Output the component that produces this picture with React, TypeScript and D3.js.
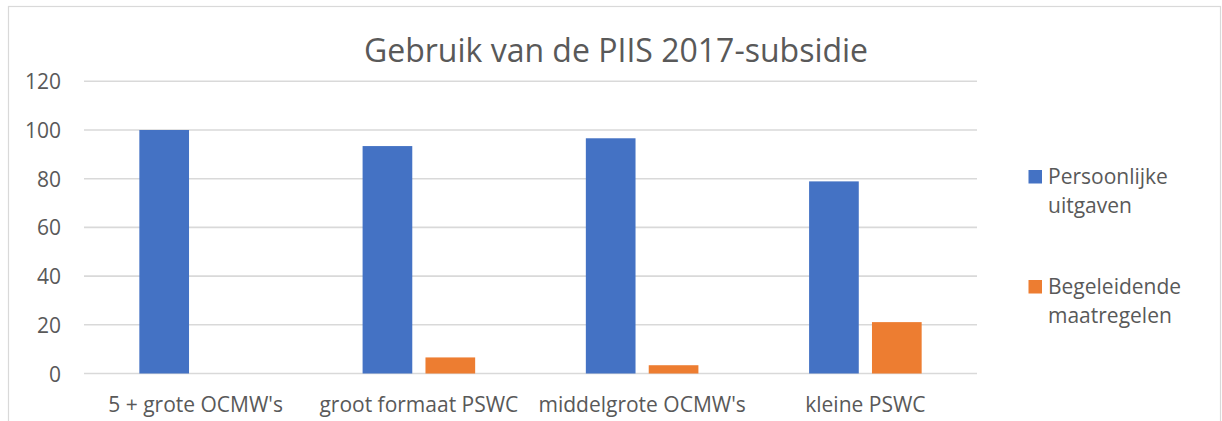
import React from "react";
import * as d3 from "d3";

const categories = ["5 + grote OCMW's", "groot formaat PSWC", "middelgrote OCMW's", "kleine PSWC"];
const seriesNames = ["Persoonlijke uitgaven", "Begeleidende maatregelen"];
const legendLines = [["Persoonlijke", "uitgaven"], ["Begeleidende", "maatregelen"]];
const persoonlijke = [100, 93.4, 96.6, 78.9];
const begeleidende = [0, 6.6, 3.4, 21.1];
const yTicks = [0, 20, 40, 60, 80, 100, 120];
const colors = ["#4472C4", "#ED7D31"];
const title = "Gebruik van de PIIS 2017-subsidie";

const W = 1222;
const H = 421;
const FONT = "'Open Sans', sans-serif";
const TEXT = "#595959";
const GRID = "#d9d9d9";

export default function App() {
  const values = [persoonlijke, begeleidende];
  const x0 = d3.scaleBand<string>().domain(categories).range([84, 977]).padding(0);
  const x1 = d3
    .scaleBand<string>()
    .domain(seriesNames)
    .range([0, x0.bandwidth()])
    .paddingInner(0.21)
    .paddingOuter(0.88);
  const y = d3.scaleLinear().domain([0, 120]).range([373.5, 81.3]);

  return (
    <svg
      width={W}
      height={H}
      style={{ position: "absolute", left: 0, top: 0, background: "#fff" }}
      fontFamily={FONT}
    >
      <rect x={0} y={0} width={W} height={H} fill="#fff" />
      <rect x={8.5} y={6.5} width={1212} height={440} fill="#fff" stroke={GRID} strokeWidth={1.2} />
      <text x={616} y={62} textAnchor="middle" fontSize={32} fill={TEXT}>
        {title}
      </text>
      {yTicks.map((t) => (
        <g key={t}>
          <line x1={84} x2={977} y1={y(t)} y2={y(t)} stroke={GRID} strokeWidth={1.6} />
          <text
            x={61}
            y={y(t)}
            textAnchor="end"
            dominantBaseline="central"
            fontSize={21}
            fill={TEXT}
          >
            {t}
          </text>
        </g>
      ))}
      {categories.map((c, i) => (
        <g key={c}>
          {seriesNames.map((s, j) => {
            const v = values[j][i];
            if (v <= 0) return null;
            return (
              <rect
                key={s}
                x={(x0(c) ?? 0) + (x1(s) ?? 0)}
                y={y(v)}
                width={x1.bandwidth()}
                height={y(0) - y(v)}
                fill={colors[j]}
              />
            );
          })}
          <text
            x={(x0(c) ?? 0) + x0.bandwidth() / 2}
            y={412}
            textAnchor="middle"
            fontSize={21}
            fill={TEXT}
          >
            {c}
          </text>
        </g>
      ))}
      {seriesNames.map((s, j) => {
        const top = j === 0 ? 170 : 280;
        return (
          <g key={s}>
            <rect x={1028.5} y={top} width={13.5} height={13.5} fill={colors[j]} />
            {legendLines[j].map((line, k) => (
              <text key={k} x={1048} y={top + 14 + k * 29} fontSize={21} fill={TEXT}>
                {line}
              </text>
            ))}
          </g>
        );
      })}
    </svg>
  );
}
